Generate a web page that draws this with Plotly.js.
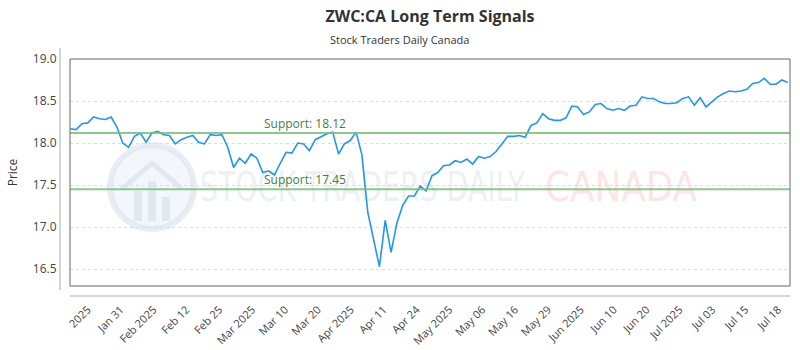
<!DOCTYPE html>
<html><head><meta charset="utf-8">
<script src="https://cdn.plot.ly/plotly-3.0.1.min.js"></script>
<style>html,body{margin:0;padding:0;background:#fff}#chart{width:800px;height:350px}</style>
</head><body><div id="chart"></div>
<script>
const tickLabels = ['2025','Jan 31','Feb 2025','Feb 12','Feb 25','Mar 2025','Mar 10','Mar 20','Apr 2025','Apr 11','Apr 24','May 2025','May 06','May 16','May 29','Jun 2025','Jun 10','Jun 20','Jul 2025','Jul 03','Jul 15','Jul 18'];
const prices = [
  18.17, 18.16, 18.23, 18.24, 18.31, 18.29, 18.28, 18.31, 18.19, 18.00,
  17.95, 18.08, 18.12, 18.01, 18.12, 18.14, 18.10, 18.09, 17.99, 18.04,
  18.07, 18.09, 18.01, 17.99, 18.10, 18.09, 18.10, 17.95, 17.71, 17.82,
  17.76, 17.87, 17.82, 17.65, 17.67, 17.62, 17.76, 17.89, 17.88, 18.00,
  17.99, 17.91, 18.04, 18.08, 18.11, 18.13, 17.87, 17.99, 18.03, 18.13,
  17.86, 17.18, 16.87, 16.53, 17.08, 16.70, 17.05, 17.26, 17.37, 17.37,
  17.49, 17.43, 17.61, 17.65, 17.73, 17.74, 17.79, 17.77, 17.81, 17.75,
  17.84, 17.82, 17.84, 17.90, 17.99, 18.08, 18.08, 18.09, 18.07, 18.21,
  18.24, 18.35, 18.29, 18.27, 18.27, 18.30, 18.44, 18.43, 18.34, 18.37,
  18.46, 18.47, 18.41, 18.39, 18.41, 18.39, 18.44, 18.45, 18.55, 18.53,
  18.53, 18.49, 18.47, 18.47, 18.48, 18.53, 18.55, 18.45, 18.54, 18.43,
  18.49, 18.55, 18.59, 18.62, 18.61, 18.62, 18.64, 18.71, 18.72, 18.77,
  18.70, 18.70, 18.75, 18.72
];
const supportLevels = [18.12, 17.45];
const supportNames = ['Support: 18.12', 'Support: 17.45'];
const yTicks = [16.5, 17.0, 17.5, 18.0, 18.5, 19.0];

const idx = prices.map((_, i) => i);
const step = prices.length / tickLabels.length;
const tickvals = tickLabels.map((_, i) => 3.0 + i * step);

const wm = '<svg xmlns="http://www.w3.org/2000/svg" width="720" height="227" viewBox="0 0 720 227">' +
  '<circle cx="82" cy="128" r="42" fill="rgba(232,238,246,0.5)" stroke="rgba(218,226,238,0.6)" stroke-width="6"/>' +
  '<polyline points="52,130 82,104 112,130" fill="none" stroke="rgba(215,223,235,0.6)" stroke-width="5"/>' +
  '<rect x="64" y="132" width="8" height="30" fill="rgba(215,223,235,0.6)"/>' +
  '<rect x="78" y="122" width="8" height="40" fill="rgba(215,223,235,0.6)"/>' +
  '<rect x="92" y="138" width="8" height="24" fill="rgba(215,223,235,0.6)"/>' +
  '<text x="130" y="142" font-family="DejaVu Sans" font-size="40" textLength="325" lengthAdjust="spacingAndGlyphs" fill="rgba(222,228,238,0.55)">STOCK TRADERS DAILY</text>' +
  '<text x="475" y="142" font-family="DejaVu Sans" font-size="40" textLength="152" lengthAdjust="spacingAndGlyphs" fill="rgba(252,212,214,0.6)">CANADA</text>' +
  '</svg>';

const shapes = [];
supportLevels.forEach(v => shapes.push({type:'line', xref:'paper', x0:0, x1:1, yref:'y', y0:v, y1:v,
  line:{color:'rgba(120,190,120,0.85)', width:2}}));
shapes.push({type:'rect', xref:'paper', yref:'paper', x0:0, x1:1, y0:0, y1:1, line:{color:'#666', width:1}});
shapes.push({type:'line', xref:'paper', yref:'paper', x0:0, x1:1, y0:-0.044, y1:-0.044, line:{color:'#c8c8c8', width:1.5}});
shapes.push({type:'line', xref:'paper', yref:'paper', x0:-0.0139, x1:-0.0139, y0:-0.018, y1:1.048, line:{color:'#c8c8c8', width:1.5}});

const annotations = supportLevels.map((v, i) => ({
  xref:'paper', x:0.326, yref:'y', y:v, text:supportNames[i], showarrow:false,
  xanchor:'center', yanchor:'bottom', yshift:-1, font:{family:'Open Sans', size:12, color:'#3f7f3f'}
}));
annotations.push({xref:'paper', yref:'paper', x:0.4583, y:1.084, xanchor:'center', yanchor:'middle', text:'Stock Traders Daily Canada',
  showarrow:false, font:{family:'Open Sans', size:11, color:'#333'}});

const trace = {x: idx, y: prices, type:'scatter', mode:'lines',
  line:{color:'#2196f3', width:1.6}, hoverinfo:'skip'};

const layout = {
  width:800, height:350,
  margin:{l:70, r:10, t:59, b:64},
  paper_bgcolor:'#fff', plot_bgcolor:'#fff',
  title:{text:'ZWC:CA Long Term Signals', x:0.5, xref:'paper', y:0.954, yref:'container', yanchor:'middle',
    font:{family:'Open Sans', size:16, color:'#333', weight:'bold'}},
  showlegend:false,
  images:[{source:'data:image/svg+xml;charset=utf-8,' + encodeURIComponent(wm), xref:'paper', yref:'paper',
    x:0, y:1, sizex:1, sizey:1, xanchor:'left', yanchor:'top', sizing:'stretch', layer:'below'}],
  xaxis:{range:[-0.05, 123.4], tickvals:tickvals, ticktext:tickLabels, tickangle:-45,
    showgrid:false, zeroline:false, showline:false, ticks:'outside', ticklen:12, tickcolor:'rgba(0,0,0,0)',
    tickfont:{family:'Open Sans', size:11, color:'#444'}},
  yaxis:{range:[16.3, 19.0], tickvals:yTicks, ticktext:yTicks.map(v => v.toFixed(1)),
    showgrid:true, gridcolor:'#ddd', griddash:'dot', gridwidth:1, zeroline:false, showline:false,
    ticks:'outside', ticklen:10, tickcolor:'rgba(0,0,0,0)',
    tickfont:{family:'Open Sans', size:12, color:'#444'},
    title:{text:'Price', standoff:12, font:{family:'Open Sans', size:12, color:'#333'}}},
  shapes:shapes, annotations:annotations
};
Plotly.newPlot('chart', [trace], layout, {staticPlot:true, displayModeBar:false});
</script>
</body></html>
